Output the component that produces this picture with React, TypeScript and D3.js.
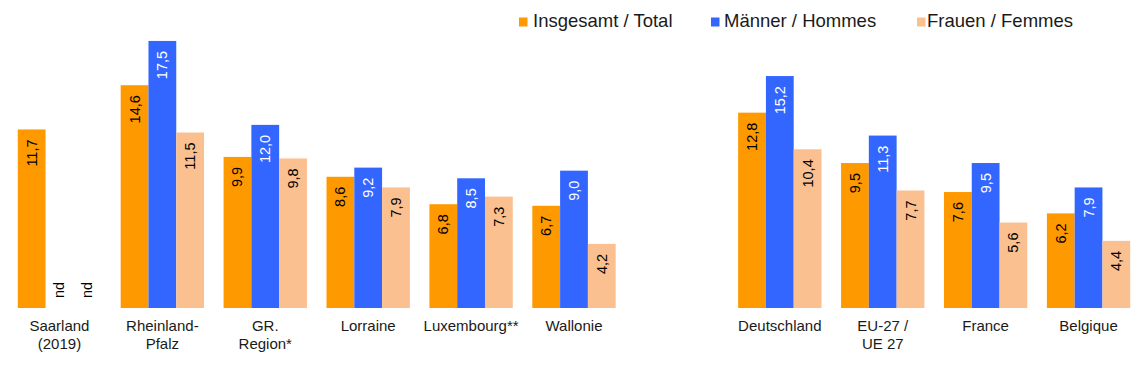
import React from "react";
import * as d3 from "d3";

const categories: string[] = [
  "Saarland\n(2019)",
  "Rheinland-\nPfalz",
  "GR.\nRegion*",
  "Lorraine",
  "Luxembourg**",
  "Wallonie",
  "",
  "Deutschland",
  "EU-27 /\nUE 27",
  "France",
  "Belgique",
];
const total: (number | null)[] = [11.7, 14.6, 9.9, 8.6, 6.8, 6.7, null, 12.8, 9.5, 7.6, 6.2];
const men: (number | null)[] = [null, 17.5, 12.0, 9.2, 8.5, 9.0, null, 15.2, 11.3, 9.5, 7.9];
const women: (number | null)[] = [null, 11.5, 9.8, 7.9, 7.3, 4.2, null, 10.4, 7.7, 5.6, 4.4];
const seriesNames: string[] = ["Insgesamt / Total", "Männer / Hommes", "Frauen / Femmes"];
const seriesColors: string[] = ["#FF9900", "#3366FF", "#FAC090"];
const labelColors: string[] = ["#000000", "#FFFFFF", "#000000"];

const W = 1140;
const H = 378;
const FONT = "'Liberation Sans', Arial, Helvetica, sans-serif";

export default function App() {
  const series = [total, men, women];
  const x = d3
    .scaleBand<number>()
    .domain(d3.range(categories.length))
    .range([8, 1140])
    .paddingInner(0.19)
    .paddingOuter(0.095);
  const xs = d3
    .scaleBand<number>()
    .domain([0, 1, 2])
    .range([0, x.bandwidth()]);
  const y = d3.scaleLinear().domain([0, 20]).range([308, 2.8]);
  const fmt = (v: number) => d3.format(".1f")(v).replace(".", ",");

  const legendX = [519, 711, 917];
  const legendTextOffset = [14, 13, 10];

  return (
    <svg
      width={W}
      height={H}
      style={{ position: "absolute", left: 0, top: 0, background: "#fff" }}
      fontFamily={FONT}
    >
      <rect x={0} y={0} width={W} height={H} fill="#fff" />
      {categories.map((cat, i) => {
        if (cat === "") return null;
        const gx = x(i)!;
        return (
          <g key={i}>
            {series.map((s, j) => {
              const v = s[i];
              const bx = gx + xs(j)!;
              const bw = xs.bandwidth();
              const cx = bx + bw / 2;
              if (v == null) {
                return (
                  <text
                    key={j}
                    transform={`translate(${cx},${y(0) - 10}) rotate(-90)`}
                    textAnchor="start"
                    dominantBaseline="central"
                    fontSize={14.5}
                    fill="#000"
                  >
                    nd
                  </text>
                );
              }
              return (
                <g key={j}>
                  <rect x={bx} y={y(v)} width={bw} height={y(0) - y(v)} fill={seriesColors[j]} />
                  <text
                    transform={`translate(${cx},${y(v) + 10}) rotate(-90)`}
                    textAnchor="end"
                    dominantBaseline="central"
                    fontSize={14.5}
                    fill={labelColors[j]}
                  >
                    {fmt(v)}
                  </text>
                </g>
              );
            })}
            <text
              x={gx + x.bandwidth() / 2}
              y={331}
              textAnchor="middle"
              fontSize={15}
              fill="#1a1a1a"
            >
              {cat.split("\n").map((line, k) => (
                <tspan key={k} x={gx + x.bandwidth() / 2} dy={k === 0 ? 0 : 18}>
                  {line}
                </tspan>
              ))}
            </text>
          </g>
        );
      })}
      {seriesNames.map((name, j) => (
        <g key={name}>
          <rect x={legendX[j]} y={17.5} width={8.5} height={9} fill={seriesColors[j]} />
          <text x={legendX[j] + legendTextOffset[j]} y={27} fontSize={18.5} fill="#1a1a1a">
            {name}
          </text>
        </g>
      ))}
    </svg>
  );
}
